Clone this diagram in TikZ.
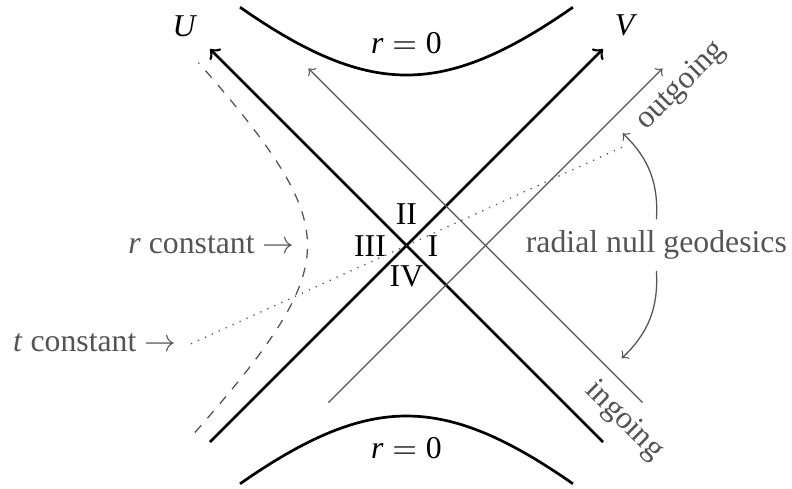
\documentclass[tikz,border=0pt]{standalone}
\usepackage{fontspec}
\setmainfont{Liberation Serif}
\definecolor{geogray}{gray}{0.33}
\begin{document}
\begin{tikzpicture}[x=31.5pt,y=31.5pt,
  axisline/.style={line width=0.85pt,->},
  hypline/.style={line width=0.85pt},
  geoline/.style={draw=geogray,line width=0.4pt,->},
  lbl/.style={inner sep=0pt,font=\fontsize{10}{12}\selectfont},
  glbl/.style={lbl,text=geogray},
]
\useasboundingbox (-4.065,-2.425) rectangle (3.855,2.455);

% Kruskal axes
\coordinate (Vs) at (-1.965,-1.965);
\coordinate (Ve) at (1.965,1.965);
\coordinate (Us) at (1.965,-1.965);
\coordinate (Ue) at (-1.965,1.965);
\draw[axisline] (Vs) -- (Ve);
\draw[axisline] (Us) -- (Ue);
\node[lbl,anchor=base] (Ulab) at (-2.215,2.095) {\textit{U}};
\node[lbl,anchor=base] (Vlab) at (2.195,2.105) {\textit{V}};

% singularities r=0
\draw[hypline] plot[domain=-1.665:1.665,samples=80,smooth] (\x,{sqrt(1.705*1.705+\x*\x)});
\draw[hypline] plot[domain=-1.665:1.665,samples=80,smooth] (\x,{-sqrt(1.705*1.705+\x*\x)});
\node[lbl,anchor=base] (rtop) at (0,1.925) {\textit{r}${}={}$0};
\node[lbl,anchor=base] (rbot) at (0,-2.125) {\textit{r}${}={}$0};

% regions
\node[lbl] (II) at (0,0.31) {II};
\node[lbl] (III) at (-0.365,-0.005) {III};
\node[lbl] (I) at (0.265,-0.005) {I};
\node[lbl] (IV) at (0,-0.305) {IV};

% radial null geodesics
\coordinate (in1) at (2.36,-1.57);
\coordinate (in2) at (-0.98,1.77);
\draw[geoline] (in1) -- (in2);
\coordinate (out1) at (-0.78,-1.57);
\coordinate (out2) at (2.56,1.77);
\draw[geoline] (out1) -- (out2);
\node[glbl,rotate=45] (outl) at (2.745,1.595) {outgoing};
\node[glbl,rotate=-45] (inl) at (2.175,-1.755) {ingoing};

% t constant and r constant
\coordinate (t1) at (-2.155,-0.983);
\coordinate (t2) at (2.155,0.983);
\draw[draw=geogray,dotted] (t1) -- (t2);
\draw[draw=geogray,dashed] plot[domain=-1.87:1.83,samples=80,smooth] ({-sqrt(0.99*0.99+\x*\x)},\x);
\node[glbl,anchor=base east] (tlab) at (-2.298,-1.062) {\textit{t} constant $\rightarrow$};
\node[glbl,anchor=base east] (rlab) at (-1.115,-0.075) {\textit{r} constant $\rightarrow$};

% annotation
\node[text=geogray,font=\fontsize{10}{12}\selectfont,anchor=base] (rng) at (2.499,-0.072) {radial null geodesics};
\coordinate (otip) at (2.162,1.122);
\coordinate (itip) at (2.152,-1.128);
\draw[geogray,->] (rng.north) to[bend right=25] (otip);
\draw[geogray,->] (rng.south) to[bend left=25] (itip);
\end{tikzpicture}
\end{document}
